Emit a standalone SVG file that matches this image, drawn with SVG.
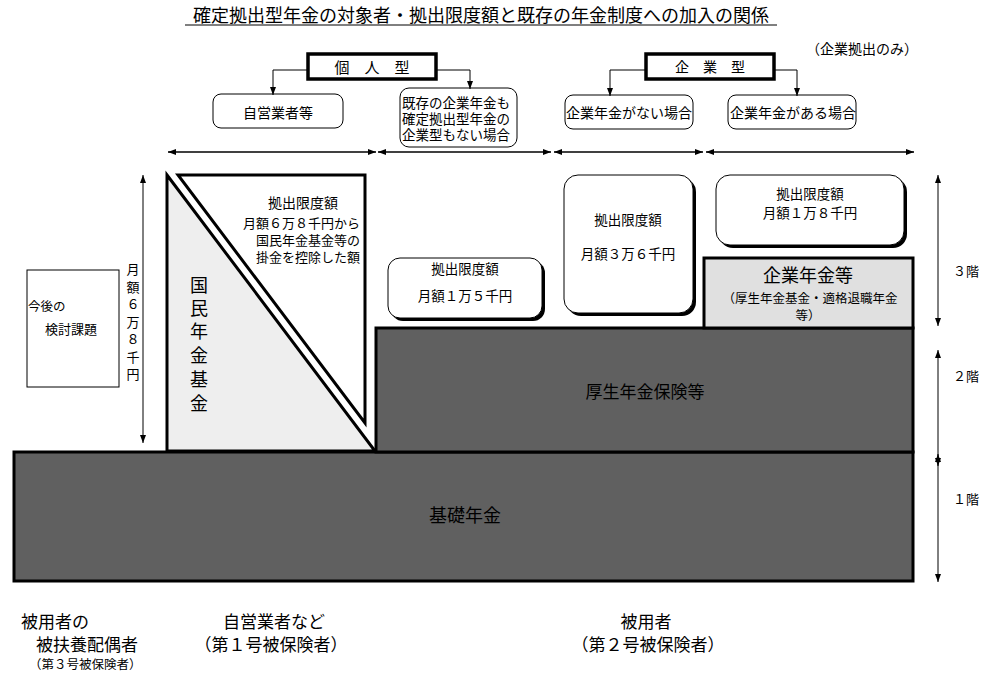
<svg xmlns="http://www.w3.org/2000/svg" width="986" height="682" viewBox="0 0 986 682">
<style>
text{font-family:"Noto Sans CJK JP","Noto Sans CJK SC",sans-serif;fill:#000;dominant-baseline:central}
.m{text-anchor:middle}
.e{text-anchor:end}
.thick{fill:#fff;stroke:#000;stroke-width:3.5}
.thin{fill:#fff;stroke:#000;stroke-width:1}
.dark{fill:#606060;stroke:#000;stroke-width:3}
.shadow{fill:#000}
.ln{fill:none;stroke:#000;stroke-width:1}
.hl{fill:none;stroke:#000;stroke-width:1.5}
.f12{font-size:12.5px}.f13{font-size:13px}.f135{font-size:13.5px}.f14{font-size:14px}.f15{font-size:15px}.f17{font-size:17px}.f18{font-size:18px}
</style>
<defs>
<marker id="ah" viewBox="0 0 8 6" refX="8" refY="3" markerWidth="8" markerHeight="6" orient="auto-start-reverse" markerUnits="userSpaceOnUse"><path d="M0,0 L8,3 L0,6 z" fill="#000"/></marker>
</defs>
<rect width="986" height="682" fill="#fff"/>

<g id="title">
<text x="481" y="14" class="m f18">確定拠出型年金の対象者・拠出限度額と既存の年金制度への加入の関係</text>
<line x1="185" y1="25" x2="777" y2="25" class="ln"/>
</g>

<g id="base">
<rect x="14" y="452" width="899" height="129" class="dark"/>
<text x="465" y="514" class="m f18">基礎年金</text>
</g>

<g id="kosei">
<rect x="376" y="328" width="537" height="124" class="dark"/>
<text x="645" y="390" class="m f17">厚生年金保険等</text>
</g>

<g id="kigyonenkin">
<rect x="704" y="258" width="209" height="70" fill="#e0e0e0" stroke="#000" stroke-width="3"/>
<text x="808" y="274" class="m f18">企業年金等</text>
<text x="810" y="297" class="m f12">（厚生年金基金・適格退職年金</text>
<text x="808" y="314" class="m f12">等）</text>
</g>

<g id="kokumin">
<path d="M167,175 L375,451 L167,451 Z" fill="#eeeeee" stroke="#000" stroke-width="3" stroke-linejoin="miter"/>
<text x="199" class="m f18"><tspan x="199" y="284">国</tspan><tspan x="199" y="307">民</tspan><tspan x="199" y="330">年</tspan><tspan x="199" y="354">金</tspan><tspan x="199" y="378">基</tspan><tspan x="199" y="402">金</tspan></text>
</g>

<g id="limit68">
<path d="M178,175 L365,175 L365,423 Z" fill="#fff" stroke="#000" stroke-width="3"/>
<text x="303" y="202" class="m f14">拠出限度額</text>
<text x="360" y="222" class="e f13">月額６万８千円から</text>
<text x="360" y="239" class="e f13">国民年金基金等の</text>
<text x="360" y="256" class="e f13">掛金を控除した額</text>
</g>

<g id="limit15">
<rect x="391" y="261" width="154" height="60" rx="12" class="shadow"/>
<rect x="388" y="258" width="154" height="60" rx="12" class="thin"/>
<text x="465" y="268" class="m f135">拠出限度額</text>
<text x="465" y="295" class="m f135">月額１万５千円</text>
</g>

<g id="limit36">
<rect x="567" y="178" width="129" height="138" rx="14" class="shadow"/>
<rect x="564" y="175" width="129" height="138" rx="14" class="thin"/>
<text x="628" y="219" class="m f135">拠出限度額</text>
<text x="628" y="253" class="m f135">月額３万６千円</text>
</g>

<g id="limit18">
<rect x="719" y="178" width="188" height="70" rx="14" class="shadow"/>
<rect x="716" y="175" width="188" height="70" rx="14" class="thin"/>
<text x="810" y="193" class="m f135">拠出限度額</text>
<text x="810" y="212" class="m f135">月額１万８千円</text>
</g>

<g id="kentou">
<rect x="27" y="270" width="92" height="117" class="thin"/>
<text x="28" y="305" class="f12">今後の</text>
<text x="45" y="328" class="f13">検討課題</text>
</g>

<g id="kojin">
<rect x="308" y="54" width="128" height="25" class="thick"/>
<text x="372" y="66" class="m f15">個　人　型</text>
</g>

<g id="kigyo">
<rect x="646" y="54" width="128" height="25" class="thick"/>
<text x="710" y="66" class="m f14">企　業　型</text>
<text x="862" y="48" class="m f14">（企業拠出のみ）</text>
</g>

<g id="jieigyo">
<rect x="213" y="94" width="130" height="34" rx="8" class="thin"/>
<text x="278" y="112" class="m f14">自営業者等</text>
</g>

<g id="nonenkin">
<rect x="400" y="88" width="117" height="59" rx="9" class="thin"/>
<text x="402" y="102" class="f135">既存の企業年金も</text>
<text x="402" y="118" class="f135">確定拠出型年金の</text>
<text x="402" y="134" class="f135">企業型もない場合</text>
</g>

<g id="kigyonashi">
<rect x="565" y="95" width="128" height="34" rx="8" class="thin"/>
<text x="566" y="112" class="f14">企業年金がない場合</text>
</g>

<g id="kigyoari">
<rect x="728" y="95" width="128" height="34" rx="8" class="thin"/>
<text x="730" y="112" class="f14">企業年金がある場合</text>
</g>

<g id="labels">
<text x="133" class="f13 m"><tspan x="133" y="268">月</tspan><tspan x="133" y="286">額</tspan><tspan x="133" y="303">６</tspan><tspan x="133" y="321">万</tspan><tspan x="133" y="338">８</tspan><tspan x="133" y="356">千</tspan><tspan x="133" y="373">円</tspan></text>
<text x="953" y="270" class="f13">３階</text>
<text x="953" y="375" class="f13">２階</text>
<text x="953" y="498" class="f13">１階</text>
<text x="21" y="620" class="f17">被用者の</text>
<text x="36" y="643" class="f17">被扶養配偶者</text>
<text x="29" y="663" class="f12">（第３号被保険者）</text>
<text x="274" y="620" class="m f17">自営業者など</text>
<text x="271" y="643" class="m f17">（第１号被保険者）</text>
<text x="646" y="620" class="m f17">被用者</text>
<text x="648" y="643" class="m f17">（第２号被保険者）</text>
</g>

<g id="connectors">
<path d="M308,70 H273 V95" class="ln" marker-end="url(#ah)"/>
<path d="M436,70 H470 V89" class="ln" marker-end="url(#ah)"/>
<path d="M646,70 H610 V96" class="ln" marker-end="url(#ah)"/>
<path d="M774,70 H797 V96" class="ln" marker-end="url(#ah)"/>
<line x1="168" y1="152" x2="376" y2="152" class="hl" marker-start="url(#ah)" marker-end="url(#ah)"/>
<line x1="378" y1="152" x2="551" y2="152" class="hl" marker-start="url(#ah)" marker-end="url(#ah)"/>
<line x1="554" y1="152" x2="703" y2="152" class="hl" marker-start="url(#ah)" marker-end="url(#ah)"/>
<line x1="706" y1="152" x2="914" y2="152" class="hl" marker-start="url(#ah)" marker-end="url(#ah)"/>
<line x1="143" y1="175" x2="143" y2="443" class="ln" marker-start="url(#ah)" marker-end="url(#ah)"/>
<line x1="938" y1="175" x2="938" y2="326" class="ln" marker-start="url(#ah)" marker-end="url(#ah)"/>
<line x1="938" y1="350" x2="938" y2="466" class="ln" marker-start="url(#ah)" marker-end="url(#ah)"/>
<line x1="938" y1="454" x2="938" y2="582" class="ln" marker-start="url(#ah)" marker-end="url(#ah)"/>
</g>
</svg>
